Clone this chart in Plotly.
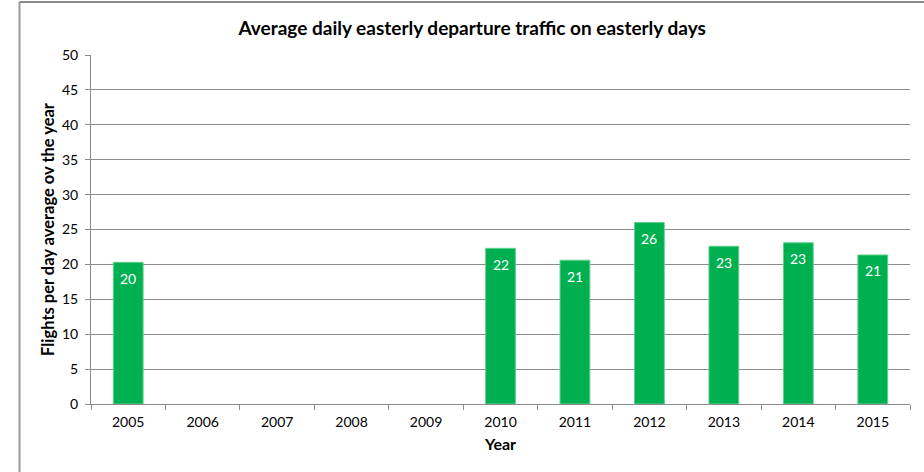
import plotly.graph_objects as go

years = ["2005", "2006", "2007", "2008", "2009", "2010", "2011", "2012", "2013", "2014", "2015"]
flights = [20.3, None, None, None, None, 22.3, 20.6, 26.0, 22.6, 23.1, 21.35]
labels = ["20", "", "", "", "", "22", "21", "26", "23", "23", "21"]

FONT = "Lato, Carlito, Calibri, sans-serif"
GRID = "#8c8c8c"

fig = go.Figure()
fig.add_trace(go.Bar(
    x=years, y=flights,
    marker=dict(color="#00B050", line=dict(color="#5fd08f", width=1)),
    hoverinfo="x+y",
))

# data labels inside top of each bar (x given as category index)
for i, (val, lab) in enumerate(zip(flights, labels)):
    if val is None or not lab:
        continue
    fig.add_annotation(x=i, y=val, xref="x", yref="y", text=lab, showarrow=False,
                       yanchor="middle", yshift=-16,
                       font=dict(color="white", size=14, family=FONT))

fig.update_layout(
    width=924, height=472,
    margin=dict(l=91, r=14, t=55, b=68),
    paper_bgcolor="white", plot_bgcolor="white",
    bargap=0.6,
    showlegend=False,
    font=dict(family=FONT, color="#000000", size=14),
    title=dict(text="<b>Average daily easterly departure traffic on easterly days</b>",
               x=0.511, xanchor="center", y=0.94, yanchor="middle",
               xref="container", font=dict(size=19, family=FONT)),
    xaxis=dict(
        type="category", categoryorder="array", categoryarray=years,
        range=[-0.5, len(years) - 0.5],
        showgrid=False, showline=True, linecolor=GRID, linewidth=1,
        ticks="outside", tickson="boundaries", ticklen=5, tickcolor=GRID,
        tickfont=dict(size=14, family=FONT), ticklabelstandoff=5,
        title=dict(text="<b>Year</b>", font=dict(size=16, family=FONT), standoff=10),
    ),
    yaxis=dict(
        range=[0, 50], dtick=5, showgrid=True, gridcolor=GRID, gridwidth=1,
        showline=True, linecolor=GRID, linewidth=1, zeroline=False,
        ticks="outside", ticklen=5, tickcolor=GRID,
        tickfont=dict(size=14, family=FONT), ticklabelstandoff=4,
        title=dict(text="<b>Flights per day average ov the year</b>",
                   font=dict(size=16.5, family=FONT), standoff=3),
    ),
)

# chart-area border (left and top) in pixel-equivalent paper coords
px_w = 924 - 91 - 14
px_h = 472 - 55 - 68
x_left = (19.5 - 91) / px_w
y_top = (472 - 68 - 2) / px_h
y_bot = (472 - 68 - 472) / px_h
fig.add_shape(type="line", xref="paper", yref="paper", x0=x_left, x1=x_left,
              y0=y_bot, y1=y_top, line=dict(color="#9a9a9a", width=2))
fig.add_shape(type="line", xref="paper", yref="paper", x0=x_left, x1=(924 - 91) / px_w,
              y0=y_top, y1=y_top, line=dict(color="#8a8a8a", width=2))

fig.write_html("out.html")
